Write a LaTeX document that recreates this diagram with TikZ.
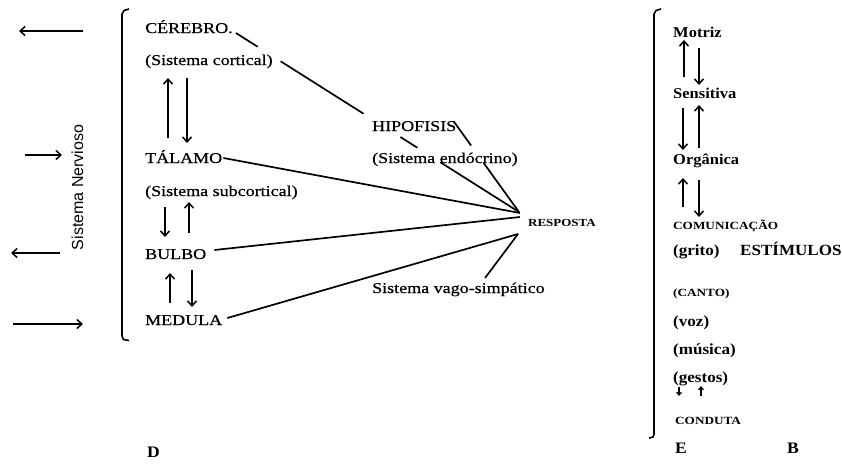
\documentclass[tikz,border=0pt]{standalone}
\usepackage{fontspec}
\setmainfont[FakeStretch=1.2,FakeBold=0.6]{Liberation Serif}
\newfontfamily\rfont[FakeStretch=1.1]{Liberation Serif}
\newfontfamily\smfont[FakeStretch=1.2]{Liberation Serif}
\newfontfamily\nerv{Liberation Sans}
\usetikzlibrary{arrows.meta,calc}
\begin{document}
\begin{tikzpicture}[x=1pt,y=-1pt,
  lt/.style={anchor=base west,inner sep=0pt,font=\fontsize{15}{18}\selectfont},
  rt/.style={anchor=base west,inner sep=0pt,font=\rfont\bfseries\fontsize{15}{18}\selectfont},
  rtb/.style={anchor=base west,inner sep=0pt,font=\rfont\bfseries\fontsize{15.5}{18}\selectfont},
  sm/.style={anchor=base west,inner sep=0pt,font=\smfont\bfseries\fontsize{11}{13}\selectfont},
  conn/.style={line width=1.7pt},
  arr/.style={line width=1.5pt,-{Straight Barb[length=5pt,width=9pt,line width=1.5pt]}},
  sarr/.style={line width=1.1pt,-{Straight Barb[length=3pt,width=5pt,line width=1.1pt]}},
  brk/.style={line width=1.6pt,line join=round}]
\useasboundingbox (0,0) rectangle (842,464);
% free arrows at the left
\coordinate (a1s) at (83,31); \coordinate (a1e) at (19,31);
\coordinate (a2s) at (25,155); \coordinate (a2e) at (62,155);
\coordinate (a3s) at (60,253); \coordinate (a3e) at (11,253);
\coordinate (a4s) at (13,324); \coordinate (a4e) at (83,324);
\draw[arr] (a1s) -- (a1e);
\draw[arr] (a2s) -- (a2e);
\draw[arr] (a3s) -- (a3e);
\draw[arr] (a4s) -- (a4e);
\node[rotate=90,inner sep=0pt,font=\nerv\fontsize{16}{19}\selectfont] (sn) at (77.5,187.5) {Sistema Nervioso};
% brackets
\draw[brk] (129,9) -- (124,10.5) -- (122,14) -- (122,336) -- (123.5,339.5) -- (129,340.5);
\draw[brk] (661,9) -- (656,10.5) -- (654,14) -- (654,434) -- (653,437) -- (649,438);
% left column
\node[lt] (cer) at (145,33) {CÉREBRO.};
\node[lt] (cor) at (145,65) {(Sistema cortical)};
\node[lt] (tal) at (145,163) {TÁLAMO};
\node[lt] (sub) at (145,196) {(Sistema subcortical)};
\node[lt] (bul) at (145,259) {BULBO};
\node[lt] (med) at (145,325) {MEDULA};
\node[lt] (hip) at (372,131) {HIPOFISIS};
\node[lt] (end) at (372,163) {(Sistema endócrino)};
\node[lt] (vag) at (372,293) {Sistema vago-simpático};
\node[sm,font=\smfont\bfseries\fontsize{10.8}{13}\selectfont] (res) at (528,226) {RESPOSTA};
\node[rt,font=\rfont\bfseries\fontsize{16}{18}\selectfont] (D) at (147,457) {D};
% vertical arrows, left column
\draw[arr] ([shift={(23,-25)}]tal.base west) -- ([shift={(23,13)}]cor.base west);
\draw[arr] ([shift={(42,13)}]cor.base west) -- ([shift={(42,-20)}]tal.base west);
\draw[arr] ([shift={(20,11)}]sub.base west) -- ([shift={(20,-22)}]bul.base west);
\draw[arr] ([shift={(44,-26)}]bul.base west) -- ([shift={(44,6)}]sub.base west);
\draw[arr] ([shift={(25,-22)}]med.base west) -- ([shift={(25,14)}]bul.base west);
\draw[arr] ([shift={(47,11)}]bul.base west) -- ([shift={(47,-18)}]med.base west);
% connectors to RESPOSTA
\coordinate (c1) at ([shift={(3,0)}]cer.base east);
\coordinate (c2) at ([shift={(-9,-14)}]res.base west);
\draw[conn] (c1) -- ($(c1)!0.077!(c2)$) ($(c1)!0.158!(c2)$) -- ($(c1)!0.451!(c2)$)
  ($(c1)!0.581!(c2)$) -- ($(c1)!0.641!(c2)$) ($(c1)!0.722!(c2)$) -- (c2);
\coordinate (h1) at ([shift={(-3,-10)}]hip.base east);
\coordinate (h2) at ([shift={(-9,-14)}]res.base west);
\draw[conn] (h1) -- ($(h1)!0.27!(h2)$) ($(h1)!0.46!(h2)$) -- (h2);
\draw[conn] ([shift={(1,-5)}]tal.base east) -- ([shift={(-8,-13)}]res.base west);
\draw[conn] ([shift={(8,-9)}]bul.base east) -- ([shift={(-8,-9)}]res.base west);
\draw[conn] ([shift={(5,-7)}]med.base east) -- ([shift={(-10,8)}]res.base west);
\draw[conn] ([shift={(113,-15)}]vag.base west) -- ([shift={(-10,8)}]res.base west);
% right column
\node[rt] (mot) at (673,37) {Motriz};
\node[rt] (sen) at (673,98) {Sensitiva};
\node[rt] (org) at (673,164) {Orgânica};
\node[sm] (com) at (673,229) {COMUNICAÇÃO};
\node[rtb] (gri) at (673,255) {(grito)};
\node[rtb] (est) at (740,255) {ESTÍMULOS};
\node[sm] (can) at (673,296) {(CANTO)};
\node[rtb] (voz) at (673,326) {(voz)};
\node[rtb] (mus) at (673,354) {(música)};
\node[rtb] (ges) at (673,382) {(gestos)};
\node[sm] (con) at (675,424) {CONDUTA};
\node[rt,font=\rfont\bfseries\fontsize{16}{18}\selectfont] (E) at (675,453) {E};
\node[rt,font=\rfont\bfseries\fontsize{16}{18}\selectfont] (B) at (787,453) {B};
\draw[arr] ([shift={(11,-21)}]sen.base west) -- ([shift={(11,3)}]mot.base west);
\draw[arr] ([shift={(26,11)}]mot.base west) -- ([shift={(26,-13)}]sen.base west);
\draw[arr] ([shift={(10,10)}]sen.base west) -- ([shift={(10,-14)}]org.base west);
\draw[arr] ([shift={(26,-16)}]org.base west) -- ([shift={(26,7)}]sen.base west);
\draw[arr] ([shift={(10,-22)}]com.base west) -- ([shift={(10,14)}]org.base west);
\draw[arr] ([shift={(26,16)}]org.base west) -- ([shift={(26,-12)}]com.base west);
\draw[sarr] ([shift={(6,5)}]ges.base west) -- ([shift={(4,-28)}]con.base west);
\draw[sarr] ([shift={(26,-28)}]con.base west) -- ([shift={(28,4)}]ges.base west);
\end{tikzpicture}
\end{document}
